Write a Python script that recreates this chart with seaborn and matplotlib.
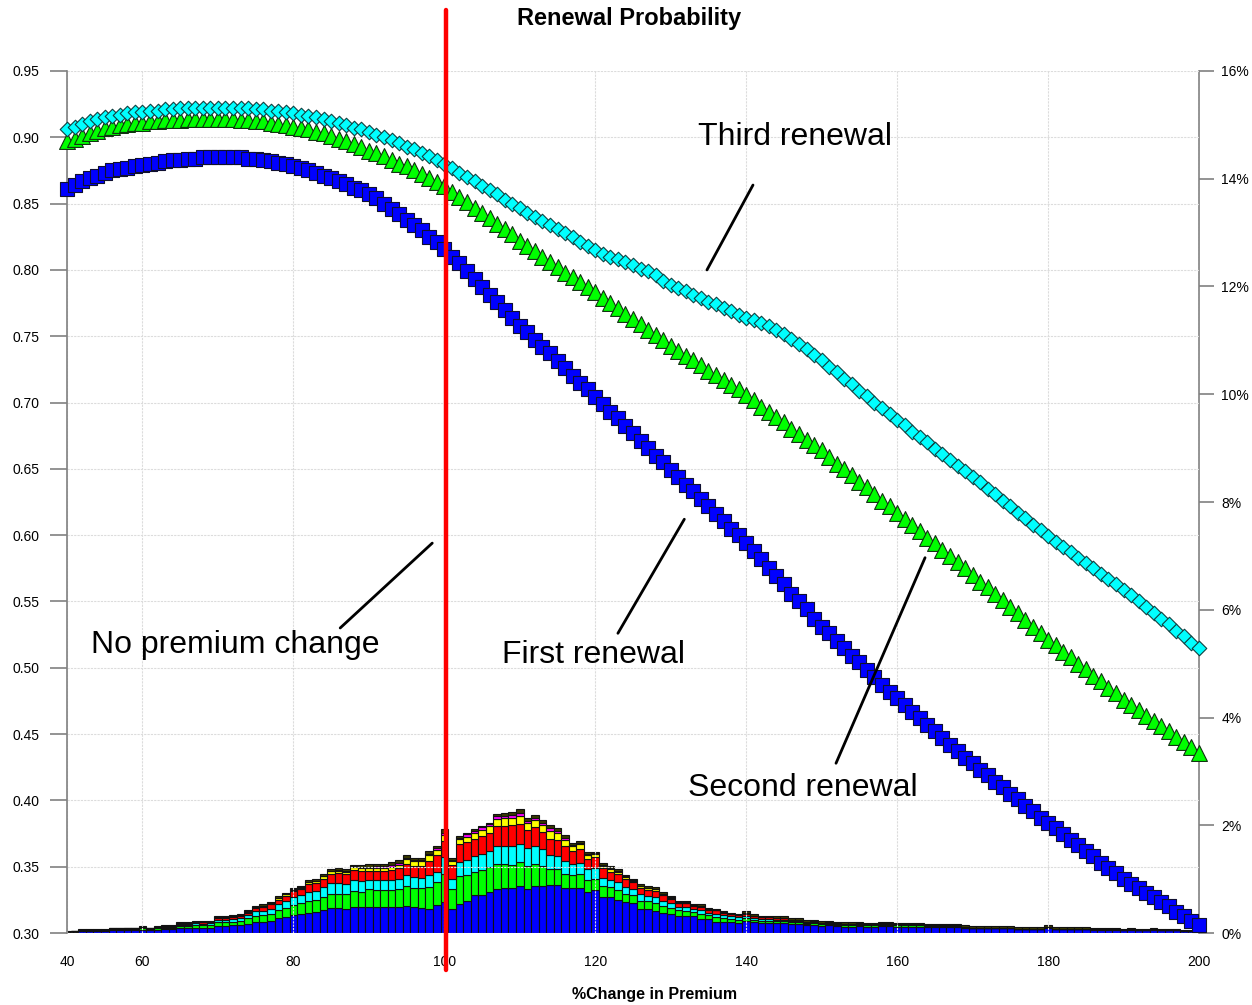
import numpy as np
import matplotlib
matplotlib.use("Agg")
import matplotlib.pyplot as plt
import seaborn as sns

# x categories: 40..58 in steps of 2, then 60..200 in steps of 1
premium_change = [40, 42, 44, 46, 48, 50, 52, 54, 56, 58] + list(range(60, 201))

# renewal probabilities (left axis)
first_renewal = [
    0.861, 0.864, 0.867, 0.869, 0.871, 0.873, 0.875, 0.876, 0.877, 0.878,
    0.879, 0.880, 0.881, 0.882, 0.883, 0.883, 0.884, 0.884, 0.885, 0.885,
    0.885, 0.885, 0.885, 0.885, 0.884, 0.884, 0.883, 0.882, 0.881, 0.880,
    0.878, 0.877, 0.875, 0.873, 0.871, 0.869, 0.867, 0.865, 0.862, 0.860,
    0.857, 0.854, 0.850, 0.846, 0.842, 0.838, 0.834, 0.830, 0.825, 0.821,
    0.816, 0.810, 0.805, 0.799, 0.793, 0.787, 0.781, 0.776, 0.770, 0.764,
    0.758, 0.753, 0.747, 0.742, 0.737, 0.731, 0.726, 0.720, 0.715, 0.710,
    0.704, 0.699, 0.693, 0.688, 0.682, 0.677, 0.671, 0.666, 0.660, 0.655,
    0.649, 0.644, 0.638, 0.633, 0.627, 0.622, 0.616, 0.611, 0.605, 0.600,
    0.594, 0.588, 0.582, 0.575, 0.569, 0.563, 0.556, 0.550, 0.544, 0.537,
    0.531, 0.526, 0.520, 0.515, 0.509, 0.504, 0.498, 0.493, 0.487, 0.482,
    0.477, 0.472, 0.467, 0.462, 0.457, 0.452, 0.447, 0.442, 0.437, 0.432,
    0.428, 0.423, 0.419, 0.414, 0.410, 0.405, 0.401, 0.396, 0.392, 0.387,
    0.383, 0.379, 0.375, 0.370, 0.366, 0.362, 0.358, 0.353, 0.349, 0.345,
    0.341, 0.337, 0.334, 0.330, 0.327, 0.323, 0.320, 0.316, 0.313, 0.309,
    0.306,
]
second_renewal = [
    0.897, 0.899, 0.901, 0.903, 0.905, 0.907, 0.908, 0.909, 0.910, 0.911,
    0.911, 0.912, 0.912, 0.913, 0.913, 0.913, 0.914, 0.914, 0.914, 0.914,
    0.914, 0.914, 0.914, 0.913, 0.913, 0.912, 0.912, 0.911, 0.910, 0.909,
    0.908, 0.907, 0.906, 0.904, 0.903, 0.901, 0.899, 0.897, 0.895, 0.893,
    0.890, 0.888, 0.886, 0.883, 0.880, 0.878, 0.875, 0.872, 0.869, 0.866,
    0.863, 0.859, 0.855, 0.851, 0.847, 0.843, 0.839, 0.835, 0.831, 0.827,
    0.822, 0.818, 0.814, 0.810, 0.806, 0.802, 0.798, 0.795, 0.791, 0.787,
    0.783, 0.779, 0.775, 0.771, 0.767, 0.763, 0.759, 0.755, 0.751, 0.747,
    0.743, 0.739, 0.735, 0.732, 0.728, 0.724, 0.721, 0.717, 0.713, 0.710,
    0.706, 0.702, 0.697, 0.693, 0.689, 0.685, 0.680, 0.676, 0.672, 0.668,
    0.664, 0.659, 0.654, 0.650, 0.645, 0.640, 0.636, 0.631, 0.626, 0.622,
    0.617, 0.612, 0.608, 0.603, 0.598, 0.594, 0.589, 0.584, 0.580, 0.575,
    0.570, 0.565, 0.561, 0.556, 0.551, 0.546, 0.541, 0.536, 0.531, 0.526,
    0.521, 0.517, 0.512, 0.508, 0.503, 0.499, 0.494, 0.490, 0.485, 0.481,
    0.476, 0.472, 0.468, 0.464, 0.460, 0.456, 0.452, 0.448, 0.444, 0.440,
    0.436,
]
third_renewal = [
    0.906, 0.908, 0.910, 0.912, 0.914, 0.915, 0.916, 0.917, 0.918, 0.919,
    0.919, 0.920, 0.920, 0.921, 0.921, 0.922, 0.922, 0.922, 0.922, 0.922,
    0.922, 0.922, 0.922, 0.922, 0.922, 0.921, 0.921, 0.920, 0.920, 0.919,
    0.918, 0.917, 0.916, 0.915, 0.914, 0.912, 0.911, 0.909, 0.907, 0.906,
    0.904, 0.902, 0.900, 0.898, 0.896, 0.893, 0.891, 0.888, 0.886, 0.883,
    0.880, 0.877, 0.873, 0.870, 0.867, 0.863, 0.860, 0.857, 0.853, 0.850,
    0.847, 0.843, 0.840, 0.837, 0.834, 0.831, 0.828, 0.825, 0.821, 0.818,
    0.815, 0.812, 0.810, 0.808, 0.806, 0.804, 0.801, 0.799, 0.796, 0.792,
    0.789, 0.786, 0.784, 0.781, 0.779, 0.776, 0.774, 0.771, 0.769, 0.766,
    0.764, 0.762, 0.760, 0.758, 0.755, 0.752, 0.748, 0.744, 0.740, 0.736,
    0.732, 0.727, 0.723, 0.718, 0.714, 0.709, 0.705, 0.700, 0.696, 0.691,
    0.687, 0.683, 0.678, 0.674, 0.670, 0.665, 0.661, 0.657, 0.652, 0.648,
    0.644, 0.640, 0.635, 0.631, 0.626, 0.622, 0.617, 0.613, 0.608, 0.604,
    0.599, 0.595, 0.591, 0.587, 0.583, 0.579, 0.575, 0.571, 0.567, 0.563,
    0.559, 0.555, 0.550, 0.546, 0.541, 0.537, 0.533, 0.528, 0.524, 0.519,
    0.515,
]

# share of policies (%, right axis), stacked layers from bottom to top
mix_blue = [
    0.015, 0.02, 0.035, 0.035, 0.04, 0.035, 0.05, 0.055, 0.05, 0.05,
    0.06, 0.05, 0.06, 0.07, 0.07, 0.09, 0.09, 0.10, 0.10, 0.10,
    0.13, 0.13, 0.14, 0.15, 0.17, 0.20, 0.21, 0.23, 0.27, 0.30,
    0.33, 0.35, 0.38, 0.39, 0.42, 0.46, 0.46, 0.45, 0.49, 0.48,
    0.49, 0.48, 0.49, 0.48, 0.49, 0.50, 0.48, 0.46, 0.45, 0.52,
    0.58, 0.45, 0.54, 0.60, 0.70, 0.71, 0.77, 0.82, 0.83, 0.83,
    0.88, 0.82, 0.88, 0.88, 0.90, 0.90, 0.83, 0.83, 0.83, 0.77,
    0.79, 0.67, 0.67, 0.62, 0.57, 0.56, 0.45, 0.45, 0.41, 0.37,
    0.35, 0.32, 0.31, 0.31, 0.26, 0.26, 0.21, 0.21, 0.20, 0.19,
    0.22, 0.20, 0.18, 0.18, 0.18, 0.18, 0.16, 0.16, 0.14, 0.15,
    0.13, 0.14, 0.13, 0.12, 0.12, 0.13, 0.12, 0.12, 0.13, 0.13,
    0.12, 0.12, 0.12, 0.12, 0.11, 0.11, 0.11, 0.11, 0.11, 0.09,
    0.09, 0.09, 0.09, 0.09, 0.09, 0.09, 0.08, 0.08, 0.08, 0.08,
    0.10, 0.08, 0.08, 0.08, 0.08, 0.08, 0.06, 0.06, 0.06, 0.06,
    0.05, 0.06, 0.05, 0.05, 0.06, 0.05, 0.05, 0.05, 0.04, 0.04,
    0.04,
]
mix_green = [
    0.003, 0.005, 0.01, 0.01, 0.008, 0.012, 0.015, 0.012, 0.02, 0.015,
    0.03, 0.02, 0.03, 0.03, 0.03, 0.04, 0.04, 0.05, 0.05, 0.05,
    0.07, 0.07, 0.07, 0.08, 0.10, 0.12, 0.12, 0.13, 0.15, 0.17,
    0.19, 0.20, 0.22, 0.22, 0.25, 0.27, 0.27, 0.27, 0.29, 0.29,
    0.32, 0.32, 0.31, 0.32, 0.33, 0.37, 0.36, 0.37, 0.40, 0.42,
    0.51, 0.37, 0.51, 0.48, 0.44, 0.46, 0.45, 0.46, 0.45, 0.44,
    0.43, 0.42, 0.41, 0.37, 0.29, 0.28, 0.27, 0.25, 0.26, 0.22,
    0.22, 0.20, 0.18, 0.18, 0.16, 0.14, 0.15, 0.14, 0.15, 0.13,
    0.12, 0.10, 0.10, 0.08, 0.10, 0.07, 0.09, 0.07, 0.06, 0.06,
    0.06, 0.05, 0.05, 0.05, 0.04, 0.04, 0.04, 0.04, 0.03, 0.03,
    0.03, 0.03, 0.02, 0.02, 0.02, 0.02, 0.02, 0.02, 0.02, 0.02,
    0.02, 0.02, 0.02, 0.02, 0.02, 0.02, 0.02, 0.02, 0.02, 0.01,
    0.01, 0.01, 0.01, 0.01, 0.01, 0.01, 0.0, 0.0, 0.0, 0.0,
    0.01, 0.0, 0.0, 0.0, 0.0, 0.0, 0.01, 0.01, 0.01, 0.01,
    0.0, 0.01, 0.0, 0.0, 0.01, 0.0, 0.0, 0.0, 0.0, 0.0,
    0.0,
]
mix_cyan = [
    0.002, 0.003, 0.005, 0.005, 0.005, 0.006, 0.008, 0.008, 0.008, 0.01,
    0.01, 0.01, 0.01, 0.01, 0.01, 0.02, 0.02, 0.03, 0.02, 0.03,
    0.05, 0.05, 0.05, 0.05, 0.06, 0.08, 0.08, 0.09, 0.11, 0.12,
    0.15, 0.15, 0.17, 0.17, 0.18, 0.19, 0.19, 0.19, 0.20, 0.20,
    0.17, 0.18, 0.18, 0.18, 0.19, 0.21, 0.20, 0.20, 0.22, 0.20,
    0.32, 0.19, 0.27, 0.28, 0.28, 0.29, 0.30, 0.33, 0.34, 0.35,
    0.35, 0.33, 0.33, 0.31, 0.25, 0.24, 0.23, 0.20, 0.21, 0.19,
    0.20, 0.16, 0.14, 0.14, 0.13, 0.12, 0.12, 0.10, 0.11, 0.10,
    0.09, 0.07, 0.08, 0.06, 0.07, 0.05, 0.06, 0.05, 0.05, 0.04,
    0.04, 0.03, 0.03, 0.03, 0.03, 0.03, 0.02, 0.02, 0.02, 0.02,
    0.02, 0.02, 0.02, 0.02, 0.02, 0.02, 0.01, 0.01, 0.02, 0.02,
    0.01, 0.01, 0.01, 0.01, 0.01, 0.01, 0.01, 0.01, 0.01, 0.01,
] + [0.0] * 31
mix_red = [
    0.002, 0.003, 0.005, 0.005, 0.005, 0.005, 0.008, 0.008, 0.007, 0.01,
    0.01, 0.005, 0.01, 0.01, 0.01, 0.02, 0.02, 0.02, 0.03, 0.02,
    0.03, 0.03, 0.04, 0.04, 0.05, 0.06, 0.07, 0.08, 0.09, 0.10,
    0.11, 0.12, 0.14, 0.15, 0.16, 0.18, 0.19, 0.18, 0.19, 0.19,
    0.17, 0.17, 0.17, 0.19, 0.19, 0.21, 0.21, 0.22, 0.27, 0.30,
    0.29, 0.26, 0.33, 0.33, 0.33, 0.34, 0.34, 0.37, 0.37, 0.38,
    0.36, 0.34, 0.34, 0.32, 0.31, 0.30, 0.28, 0.25, 0.26, 0.20,
    0.20, 0.17, 0.15, 0.15, 0.14, 0.12, 0.12, 0.11, 0.11, 0.10,
    0.07, 0.06, 0.06, 0.05, 0.06, 0.05, 0.06, 0.05, 0.04, 0.04,
    0.04, 0.04, 0.03, 0.03, 0.03, 0.03, 0.03, 0.02, 0.02, 0.02,
    0.01, 0.01, 0.01, 0.01, 0.01, 0.01, 0.01, 0.01, 0.01, 0.01,
    0.01, 0.01, 0.01, 0.01, 0.0, 0.0, 0.0, 0.0, 0.0, 0.0,
] + [0.0] * 31
mix_yellow = [
    0.001, 0.001, 0.002, 0.002, 0.002, 0.002, 0.003, 0.003, 0.003, 0.003,
    0.003, 0.002, 0.003, 0.004, 0.004, 0.005, 0.005, 0.006, 0.006, 0.006,
    0.01, 0.01, 0.01, 0.01, 0.015, 0.02, 0.02, 0.02, 0.025, 0.025,
    0.02, 0.02, 0.03, 0.03, 0.04, 0.045, 0.045, 0.045, 0.05, 0.05,
    0.06, 0.06, 0.06, 0.06, 0.07, 0.08, 0.08, 0.08, 0.10, 0.10,
    0.11, 0.06, 0.09, 0.10, 0.11, 0.12, 0.12, 0.14, 0.14, 0.14,
    0.15, 0.13, 0.14, 0.13, 0.15, 0.13, 0.12, 0.09, 0.09, 0.07,
    0.06, 0.05, 0.05, 0.05, 0.04, 0.03, 0.03, 0.03, 0.03, 0.02,
    0.02, 0.01, 0.01, 0.01, 0.01, 0.01, 0.01, 0.01, 0.01, 0.01,
    0.01,
] + [0.0] * 60
mix_magenta = [
    0.001, 0.001, 0.001, 0.001, 0.001, 0.001, 0.002, 0.002, 0.002, 0.002,
    0.002, 0.002, 0.002, 0.002, 0.002, 0.003, 0.003, 0.003, 0.003, 0.003,
    0.005, 0.005, 0.005, 0.005, 0.005, 0.005, 0.005, 0.005, 0.01, 0.01,
    0.01, 0.01, 0.01, 0.01, 0.01, 0.01, 0.01, 0.01, 0.015, 0.015,
    0.02, 0.03, 0.03, 0.03, 0.03, 0.02, 0.02, 0.02, 0.03, 0.03,
    0.04, 0.02, 0.03, 0.04, 0.04, 0.04, 0.04, 0.05, 0.05, 0.05,
    0.06, 0.04, 0.04, 0.04, 0.05, 0.04, 0.03, 0.02, 0.02, 0.02,
    0.01, 0.01, 0.01, 0.01, 0.01, 0.01, 0.01, 0.01, 0.01, 0.01,
    0.01, 0.01, 0.01, 0.01, 0.01,
] + [0.0] * 66
mix_dark = [
    0.006, 0.007, 0.012, 0.012, 0.009, 0.009, 0.014, 0.012, 0.01, 0.01,
    0.015, 0.011, 0.015, 0.014, 0.014, 0.022, 0.022, 0.021, 0.021, 0.021,
    0.025, 0.025, 0.025, 0.025, 0.02, 0.025, 0.025, 0.025, 0.025, 0.025,
    0.03, 0.03, 0.03, 0.03, 0.03, 0.035, 0.035, 0.035, 0.035, 0.035,
    0.05, 0.05, 0.05, 0.05, 0.05, 0.05, 0.05, 0.05, 0.05, 0.04,
    0.08, 0.04, 0.03, 0.03, 0.03, 0.03, 0.03, 0.04, 0.05, 0.05,
    0.07, 0.05, 0.05, 0.05, 0.05, 0.05, 0.05, 0.03, 0.04, 0.03,
    0.03, 0.04, 0.04, 0.04, 0.03, 0.03, 0.03, 0.03, 0.03, 0.03,
    0.03, 0.02, 0.02, 0.02, 0.02, 0.02, 0.02, 0.02, 0.02, 0.02,
    0.03, 0.03, 0.03, 0.03, 0.03, 0.03, 0.03, 0.03, 0.03, 0.03,
    0.03, 0.03, 0.03, 0.03, 0.03, 0.03, 0.03, 0.03, 0.03, 0.03,
    0.03, 0.03, 0.03, 0.03, 0.03, 0.03, 0.03, 0.03, 0.03, 0.03,
    0.03, 0.03, 0.03, 0.03, 0.03, 0.03, 0.03, 0.03, 0.03, 0.03,
    0.03, 0.03, 0.03, 0.03, 0.03, 0.03, 0.02, 0.02, 0.02, 0.02,
    0.02, 0.02, 0.02, 0.02, 0.02, 0.02, 0.02, 0.02, 0.02, 0.02,
    0.02,
]

tick_values = [40, 60, 80, 100, 120, 140, 160, 180, 200]

sns.set_style("white")
plt.rcParams["font.family"] = ["Liberation Sans", "DejaVu Sans"]
plt.rcParams["text.color"] = "black"
plt.rcParams["xtick.color"] = "black"
plt.rcParams["ytick.color"] = "black"

fig = plt.figure(figsize=(12.52, 10.05), dpi=100)
ax = fig.add_axes([67 / 1252, 72 / 1005, 1132 / 1252, 862 / 1005])
ax2 = ax.twinx()

pos = np.arange(len(premium_change))

# stacked distribution bars on the right axis
layers = [
    (mix_blue, "#0000ff"),
    (mix_green, "#00ff00"),
    (mix_cyan, "#00ffff"),
    (mix_red, "#ff0000"),
    (mix_yellow, "#ffff00"),
    (mix_magenta, "#ff00ff"),
    (mix_dark, "#3a3a00"),
]
bottom = np.zeros(len(pos))
for vals, col in layers:
    vals = np.asarray(vals)
    ax2.bar(pos, vals, bottom=bottom, width=1.0, color=col,
            edgecolor="#111111", linewidth=0.8)
    bottom = bottom + vals

ax2.set_ylim(0, 16)
ax2.set_yticks(range(0, 17, 2))
ax2.set_yticklabels([f"{v}%" for v in range(0, 17, 2)])
ax2.tick_params(axis="y", direction="out", length=11, width=1.2,
                color="#808080", labelcolor="black", labelsize=10, pad=5)
for s in ["top", "left", "bottom"]:
    ax2.spines[s].set_visible(False)
ax2.spines["right"].set_color("#808080")
ax2.spines["right"].set_linewidth(1.2)
ax2.grid(False)

# renewal curves on the left axis, drawn above the bars
ax.set_zorder(ax2.get_zorder() + 1)
ax.patch.set_visible(False)

sns.scatterplot(x=pos, y=first_renewal, marker="s", s=105, color="#0000ff",
                edgecolor="#101030", linewidth=0.8, ax=ax, clip_on=False, zorder=4)
sns.scatterplot(x=pos, y=second_renewal, marker="^", s=130, color="#00ff00",
                edgecolor="#103010", linewidth=0.8, ax=ax, clip_on=False, zorder=4)
sns.scatterplot(x=pos, y=third_renewal, marker="D", s=55, color="#00ffff",
                edgecolor="#104040", linewidth=0.8, ax=ax, clip_on=False, zorder=5)

ax.set_xlim(0, len(pos) - 1)
ax.set_ylim(0.30, 0.95)
ax.set_yticks(np.arange(0.30, 0.951, 0.05))
ax.set_yticklabels([f"{v:.2f}" for v in np.arange(0.30, 0.951, 0.05)])
ax.set_xticks([premium_change.index(v) for v in tick_values])
ax.set_xticklabels([str(v) for v in tick_values])
ax.tick_params(axis="y", direction="out", length=12, width=1.2,
               color="#808080", labelcolor="black", labelsize=10, pad=8)
ax.tick_params(axis="x", direction="out", length=10, width=1.2,
               color="#222222", labelcolor="black", labelsize=10, pad=6)
ax.grid(True, color="#dcdcdc", linewidth=0.8, linestyle=(0, (2, 1)))
for s in ["top", "right", "bottom"]:
    ax.spines[s].set_visible(False)
ax.spines["left"].set_color("#808080")
ax.spines["left"].set_linewidth(1.2)
ax.set_xlabel("")
ax.set_ylabel("")

# no premium change marker
x100 = premium_change.index(100)
ax.axvline(x100 + 0.25, ymin=-0.043, ymax=1.071, color="#ff0000", linewidth=3.2,
           clip_on=False, zorder=6)

# labels with leader lines
label_kw = dict(fontsize=23, ha="center", va="center", color="black", zorder=7)
ax.text(96.5, 0.900, "Third renewal", **label_kw)
ax.plot([90.9, 84.8], [0.864, 0.800], color="black", linewidth=2, zorder=7)
ax.text(22.3, 0.517, "No premium change", **label_kw)
ax.plot([48.4, 36.2], [0.594, 0.530], color="black", linewidth=2, zorder=7)
ax.text(69.8, 0.510, "First renewal", **label_kw)
ax.plot([81.8, 73.0], [0.612, 0.526], color="black", linewidth=2, zorder=7)
ax.text(97.5, 0.409, "Second renewal", **label_kw)
ax.plot([113.7, 101.9], [0.583, 0.428], color="black", linewidth=2, zorder=7)

fig.text(629 / 1252, 1 - 19 / 1005, "Renewal Probability", ha="center",
         va="center", fontsize=17, fontweight="bold", color="black")
fig.text(655 / 1252, 1 - 994 / 1005, "%Change in Premium", ha="center",
         va="center", fontsize=11.5, fontweight="bold", color="black")

fig.savefig("out.png", dpi=100)
